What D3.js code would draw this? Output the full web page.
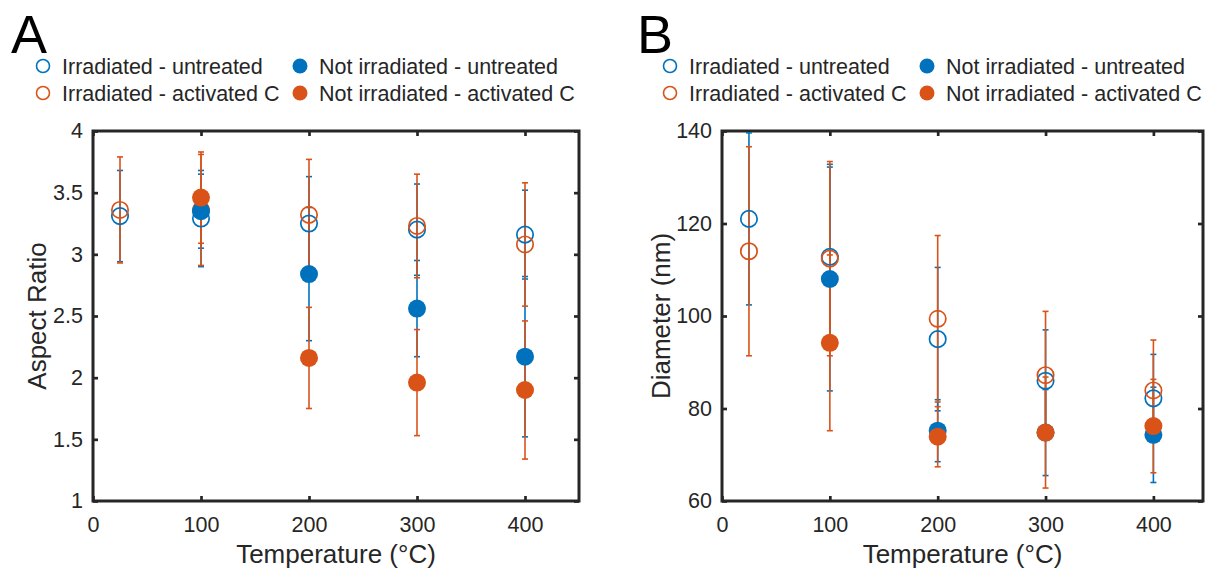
<!DOCTYPE html>
<html>
<head>
<meta charset="utf-8">
<script src="https://cdn.jsdelivr.net/npm/d3@7"></script>
<style>
  body { margin: 0; background: #fff; }
  svg { display: block; font-family: "Liberation Sans", Arial, Helvetica, sans-serif; }
</style>
</head>
<body>
<div id="chart"></div>
<script>
// Temperatures (°C)
const temps = [25, 100, 200, 300, 400];

// Panel A - aspect ratio (mean, error)
const arIrrUntreated = [3.31, 3.29, 3.25, 3.20, 3.16];
const arIrrUntreatedErr = [0.37, 0.39, 0.38, 0.37, 0.36];
const arIrrActivated = [3.36, 3.36, 3.32, 3.23, 3.08];
const arIrrActivatedErr = [0.43, 0.45, 0.45, 0.42, 0.50];
const arNotUntreated = [null, 3.35, 2.84, 2.56, 2.17];
const arNotUntreatedErr = [null, 0.30, 0.54, 0.39, 0.65];
const arNotActivated = [null, 3.46, 2.16, 1.96, 1.90];
const arNotActivatedErr = [null, 0.37, 0.41, 0.43, 0.56];

// Panel B - diameter in nm (mean, error)
const dIrrUntreated = [121.0, 112.8, 95.0, 86.0, 82.2];
const dIrrUntreatedErr = [18.6, 20.0, 15.5, 11.0, 9.5];
const dIrrActivated = [114.0, 112.4, 99.4, 87.2, 83.9];
const dIrrActivatedErr = [22.6, 21.0, 18.0, 13.8, 10.9];
const dNotUntreated = [null, 108.0, 75.2, 74.8, 74.3];
const dNotUntreatedErr = [null, 24.2, 6.7, 9.3, 10.3];
const dNotActivated = [null, 94.2, 73.9, 74.8, 76.2];
const dNotActivatedErr = [null, 19.0, 6.5, 12.0, 10.1];

const xTicks = [0, 100, 200, 300, 400];
const arTicks = [1, 1.5, 2, 2.5, 3, 3.5, 4];
const dTicks = [60, 80, 100, 120, 140];

const seriesNames = ["Irradiated - untreated", "Not irradiated - untreated",
                     "Irradiated - activated C", "Not irradiated - activated C"];

const blue = "#0072BD";
const orange = "#D95319";
const ink = "#262626";

const svg = d3.select("#chart").append("svg")
    .attr("width", 1207)
    .attr("height", 572);

// ================================================
function makeSeries(vals, errs, color, filled) {
    return temps.map((t, i) => ({t: t, v: vals[i], e: errs[i], color: color, filled: filled}))
                .filter(d => d.v !== null);
}

function drawPanel(opts) {
    const x = d3.scaleLinear().domain(opts.xDomain).range([opts.left, opts.right]);
    const y = d3.scaleLinear().domain(opts.yDomain).range([opts.bottom, opts.top]);
    const g = svg.append("g");
    const fmt = d => String(d);

    // axes (ticks pointing inward)
    const axB = g.append("g").attr("transform", `translate(0,${opts.bottom})`)
        .call(d3.axisBottom(x).tickValues(xTicks).tickSize(-5).tickSizeOuter(0).tickPadding(16).tickFormat(fmt));
    const axT = g.append("g").attr("transform", `translate(0,${opts.top})`)
        .call(d3.axisTop(x).tickValues(xTicks).tickSize(-5).tickSizeOuter(0).tickFormat(""));
    const axL = g.append("g").attr("transform", `translate(${opts.left},0)`)
        .call(d3.axisLeft(y).tickValues(opts.yTicks).tickSize(-5).tickSizeOuter(0).tickPadding(10).tickFormat(fmt));
    const axR = g.append("g").attr("transform", `translate(${opts.right},0)`)
        .call(d3.axisRight(y).tickValues(opts.yTicks).tickSize(-5).tickSizeOuter(0).tickFormat(""));

    [axB, axT, axL, axR].forEach(a => {
        a.select(".domain").remove();
        a.selectAll("line").attr("stroke", ink).attr("stroke-width", 2.7);
        a.selectAll("text").attr("fill", ink).style("font-size", "21.5px")
         .style("font-family", "'Liberation Sans', Arial, Helvetica, sans-serif");
    });

    g.append("rect")
        .attr("x", opts.left).attr("y", opts.top)
        .attr("width", opts.right - opts.left).attr("height", opts.bottom - opts.top)
        .attr("fill", "none").attr("stroke", ink).attr("stroke-width", 3);

    // error bars first, then markers on top
    const barLayer = g.append("g");
    const markLayer = g.append("g");
    const barOrder = [opts.series[0], opts.series[2], opts.series[1], opts.series[3]];
    barOrder.forEach(s => {
        barLayer.selectAll(null).data(s).join("line")
            .attr("x1", d => x(d.t)).attr("x2", d => x(d.t))
            .attr("y1", d => y(d.v - d.e)).attr("y2", d => y(d.v + d.e))
            .attr("stroke", d => d.color).attr("stroke-width", 1.6);
        [-1, 1].forEach(sign => {
            barLayer.selectAll(null).data(s).join("line")
                .attr("x1", d => x(d.t) - 3).attr("x2", d => x(d.t) + 3)
                .attr("y1", d => y(d.v + sign * d.e)).attr("y2", d => y(d.v + sign * d.e))
                .attr("stroke", d => d.color).attr("stroke-width", 1.6);
        });
    });
    opts.series.forEach(s => {
        markLayer.selectAll(null).data(s).join("circle")
            .attr("cx", d => x(d.t)).attr("cy", d => y(d.v))
            .attr("r", d => d.filled ? 9 : 8.2)
            .attr("fill", d => d.filled ? d.color : "none")
            .attr("stroke", d => d.color)
            .attr("stroke-width", d => d.filled ? 0 : 1.7);
    });

    // axis labels
    g.append("text")
        .attr("x", (opts.left + opts.right) / 2).attr("y", 563)
        .attr("text-anchor", "middle").attr("fill", ink)
        .style("font-size", "26px")
        .text("Temperature (°C)");
    g.append("text")
        .attr("transform", `translate(${opts.yLabelX},${(opts.top + opts.bottom) / 2}) rotate(-90)`)
        .attr("text-anchor", "middle").attr("fill", ink)
        .style("font-size", "26px")
        .text(opts.yLabel);

    // panel letter
    g.append("text")
        .attr("x", opts.letterX).attr("y", 53)
        .attr("fill", "#000").style("font-size", "54px")
        .text(opts.letter);

    // legend (2 x 2)
    const legend = [
        {name: seriesNames[0], color: blue, filled: false, col: 0, row: 0},
        {name: seriesNames[1], color: blue, filled: true, col: 1, row: 0},
        {name: seriesNames[2], color: orange, filled: false, col: 0, row: 1},
        {name: seriesNames[3], color: orange, filled: true, col: 1, row: 1},
    ];
    const lg = g.append("g").attr("transform", `translate(${opts.legendX},0)`);
    const colX = [0, 257];
    const rowY = [66, 93];
    legend.forEach(l => {
        lg.append("circle")
            .attr("cx", colX[l.col]).attr("cy", rowY[l.row])
            .attr("r", l.filled ? 7.5 : 6.5)
            .attr("fill", l.filled ? l.color : "none")
            .attr("stroke", l.color)
            .attr("stroke-width", l.filled ? 0 : 1.6);
        lg.append("text")
            .attr("x", colX[l.col] + 19).attr("y", rowY[l.row] + 8)
            .attr("fill", ink).style("font-size", "21.5px")
            .text(l.name);
    });
}

drawPanel({
    left: 93, right: 579, top: 131, bottom: 501,
    xDomain: [0, 450], yDomain: [1, 4], yTicks: arTicks,
    yLabel: "Aspect Ratio", yLabelX: 46,
    letter: "A", letterX: 11, legendX: 43,
    series: [
        makeSeries(arIrrUntreated, arIrrUntreatedErr, blue, false),
        makeSeries(arIrrActivated, arIrrActivatedErr, orange, false),
        makeSeries(arNotUntreated, arNotUntreatedErr, blue, true),
        makeSeries(arNotActivated, arNotActivatedErr, orange, true),
    ]
});

drawPanel({
    left: 722, right: 1203, top: 131, bottom: 501,
    xDomain: [0, 446], yDomain: [60, 140], yTicks: dTicks,
    yLabel: "Diameter (nm)", yLabelX: 670,
    letter: "B", letterX: 637, legendX: 670,
    series: [
        makeSeries(dIrrUntreated, dIrrUntreatedErr, blue, false),
        makeSeries(dIrrActivated, dIrrActivatedErr, orange, false),
        makeSeries(dNotUntreated, dNotUntreatedErr, blue, true),
        makeSeries(dNotActivated, dNotActivatedErr, orange, true),
    ]
});
</script>
</body>
</html>
